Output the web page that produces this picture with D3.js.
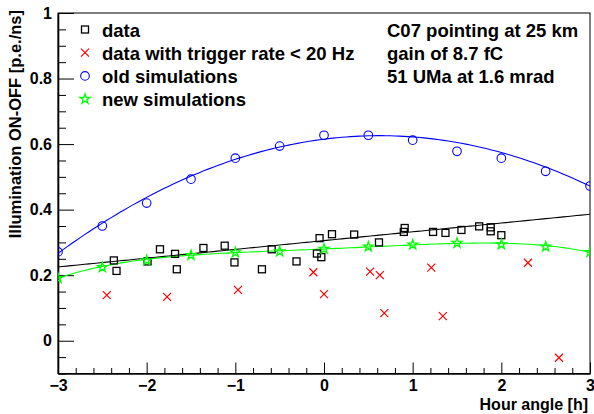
<!DOCTYPE html>
<html><head><meta charset="utf-8">
<script src="https://cdn.jsdelivr.net/npm/d3@7"></script>
<style>
body{margin:0;background:#fff}
text{font-family:"Liberation Sans",Arial,sans-serif;font-weight:bold;fill:#000}
</style>
</head><body>
<svg id="c" width="594" height="414"></svg>
<script>
// ---- data ----
const dataHour = [-2.37,-2.34,-1.99,-1.85,-1.68,-1.66,-1.36,-1.12,-1.01,-0.70,-0.59,-0.31,-0.05,-0.08,-0.03,0.09,0.34,0.62,0.91,0.90,1.23,1.37,1.55,1.75,1.88,1.88,2.00];
const dataVal  = [0.245,0.213,0.242,0.279,0.265,0.218,0.283,0.290,0.239,0.218,0.279,0.242,0.313,0.266,0.255,0.325,0.324,0.300,0.344,0.332,0.332,0.329,0.338,0.349,0.346,0.334,0.322];
const lowHour  = [-2.45,-1.77,-0.97,-0.12,0.00,0.52,0.63,0.68,1.21,1.34,2.30,2.65];
const lowVal   = [0.139,0.134,0.155,0.209,0.142,0.211,0.200,0.084,0.223,0.075,0.238,-0.052];
const simHour  = [-3,-2.5,-2,-1.5,-1,-0.5,0,0.5,1,1.5,2,2.5,3];
const oldSim   = [0.271,0.350,0.420,0.493,0.557,0.594,0.627,0.627,0.612,0.578,0.557,0.517,0.472];
const newSim   = [0.191,0.224,0.245,0.261,0.269,0.272,0.280,0.287,0.293,0.298,0.294,0.287,0.270];
// fit polynomial coefficients (c0, c1, c2, ...)
const dataFit  = [0.3055, 0.0268];
const oldFit   = [0.615, 0.0342, -0.0273];
const newFit   = [0.280, 0.01161, 0.001241, 0.000173, -0.000749];
const xTicks   = [-3,-2,-1,0,1,2,3];
const yTicks   = [0,0.2,0.4,0.6,0.8,1];
const legendLabels = ["data","data with trigger rate < 20 Hz","old simulations","new simulations"];
const infoLines = ["C07 pointing at 25 km","gain of 8.7 fC","51 UMa at 1.6 mrad"];
const xTitle = "Hour angle [h]";
const yTitle = "Illumination ON-OFF [p.e./ns]";

// ---- layout ----
const svg = d3.select("#c");
const L = 58, R = 590, T = 13, B = 373.5;
const x = d3.scaleLinear().domain([-3,3]).range([L,R]);
const y = d3.scaleLinear().domain([-0.1,1.0]).range([B,T]);

// frame
svg.append("rect").attr("x",L).attr("y",T).attr("width",R-L).attr("height",B-T)
  .attr("fill","none").attr("stroke","#000").attr("stroke-width",1);

// minor ticks
const xMinor = d3.range(-3,3.0001,0.2).filter(v=>Math.abs(v-Math.round(v))>1e-6);
const yMinor = d3.range(-0.1,1.0001,0.05).filter(v=>Math.abs(v*5-Math.round(v*5))>1e-6);
svg.append("g").attr("transform",`translate(0,${B})`)
  .call(d3.axisBottom(x).tickValues(xMinor).tickSizeInner(-5.5).tickSizeOuter(0).tickFormat(""))
  .call(g=>{g.select(".domain").remove();g.selectAll("line").attr("stroke","#000");});
svg.append("g").attr("transform",`translate(${L},0)`)
  .call(d3.axisLeft(y).tickValues(yMinor).tickSizeInner(-8).tickSizeOuter(0).tickFormat(""))
  .call(g=>{g.select(".domain").remove();g.selectAll("line").attr("stroke","#000");});

// major axes
const gx = svg.append("g").attr("transform",`translate(0,${B})`)
  .call(d3.axisBottom(x).tickValues(xTicks).tickSizeInner(-11).tickSizeOuter(0).tickPadding(6).tickFormat(d3.format("d")));
gx.select(".domain").attr("stroke","#000").attr("stroke-width",1.6);
gx.selectAll("line").attr("stroke","#000");
gx.selectAll("text").attr("font-size",16).attr("font-family","Liberation Sans, Arial, sans-serif").attr("font-weight","bold");

const gy = svg.append("g").attr("transform",`translate(${L},0)`)
  .call(d3.axisLeft(y).tickValues(yTicks).tickSizeInner(-16).tickSizeOuter(0).tickPadding(6).tickFormat(d=>d===0?"0":d===1?"1":d3.format(".1f")(d)));
gy.select(".domain").attr("stroke","#000").attr("stroke-width",1.6);
gy.selectAll("line").attr("stroke","#000");
gy.selectAll("text").attr("font-size",16).attr("font-family","Liberation Sans, Arial, sans-serif").attr("font-weight","bold");

// titles
svg.append("text").attr("x",588).attr("y",410).attr("text-anchor","end").attr("font-size",16).text(xTitle);
svg.append("text").attr("transform","translate(21,10) rotate(-90)").attr("text-anchor","end").attr("font-size",16.5).text(yTitle);

// clip
svg.append("clipPath").attr("id","clip").append("rect").attr("x",L).attr("y",T).attr("width",R-L).attr("height",B-T);
const plot = svg.append("g").attr("clip-path","url(#clip)");

// fit curves
const poly = c => h => c.reduce((s,ci,i)=>s+ci*Math.pow(h,i),0);
const hs = d3.range(-3,3.0001,0.05);
const line = d3.line().x(d=>x(d[0])).y(d=>y(d[1]));
[[dataFit,"#000"],[oldFit,"#0000ff"],[newFit,"#00ff00"]].forEach(([c,col])=>{
  const f = poly(c);
  plot.append("path").attr("d",line(hs.map(h=>[h,f(h)]))).attr("fill","none").attr("stroke",col).attr("stroke-width",1.1);
});

// markers
const sq = 7, xs = 4;
function square(g,cx,cy){ g.append("rect").attr("x",cx-sq/2).attr("y",cy-sq/2).attr("width",sq).attr("height",sq).attr("fill","none").attr("stroke","#000").attr("stroke-width",1.3); }
function cross(g,cx,cy){ g.append("path").attr("d",`M${cx-xs},${cy-xs}L${cx+xs},${cy+xs}M${cx-xs},${cy+xs}L${cx+xs},${cy-xs}`).attr("stroke","#ff0000").attr("stroke-width",1.2).attr("fill","none"); }
function circle(g,cx,cy){ g.append("circle").attr("cx",cx).attr("cy",cy).attr("r",4.3).attr("fill","none").attr("stroke","#0000ff").attr("stroke-width",1.1); }
const starPath = d3.symbol().type(d3.symbolStar).size(30)();
function star(g,cx,cy){ g.append("path").attr("d",starPath).attr("transform",`translate(${cx},${cy})`).attr("fill","none").attr("stroke","#00ff00").attr("stroke-width",1.3); }

dataHour.forEach((h,i)=>square(plot,x(h),y(dataVal[i])));
lowHour.forEach((h,i)=>cross(plot,x(h),y(lowVal[i])));
simHour.forEach((h,i)=>circle(plot,x(h),y(oldSim[i])));
simHour.forEach((h,i)=>star(plot,x(h),y(newSim[i])));

// legend
const lg = svg.append("g");
const markers = [square,cross,circle,star];
legendLabels.forEach((t,i)=>{
  const cy = 29.5 + i*23.2;
  markers[i](lg,85,cy);
  lg.append("text").attr("x",102).attr("y",cy+7).attr("font-size",18.5).text(t);
});
infoLines.forEach((t,i)=>{
  svg.append("text").attr("x",387).attr("y",36.7+i*23.2).attr("font-size",18.5).text(t);
});
</script>
</body></html>
